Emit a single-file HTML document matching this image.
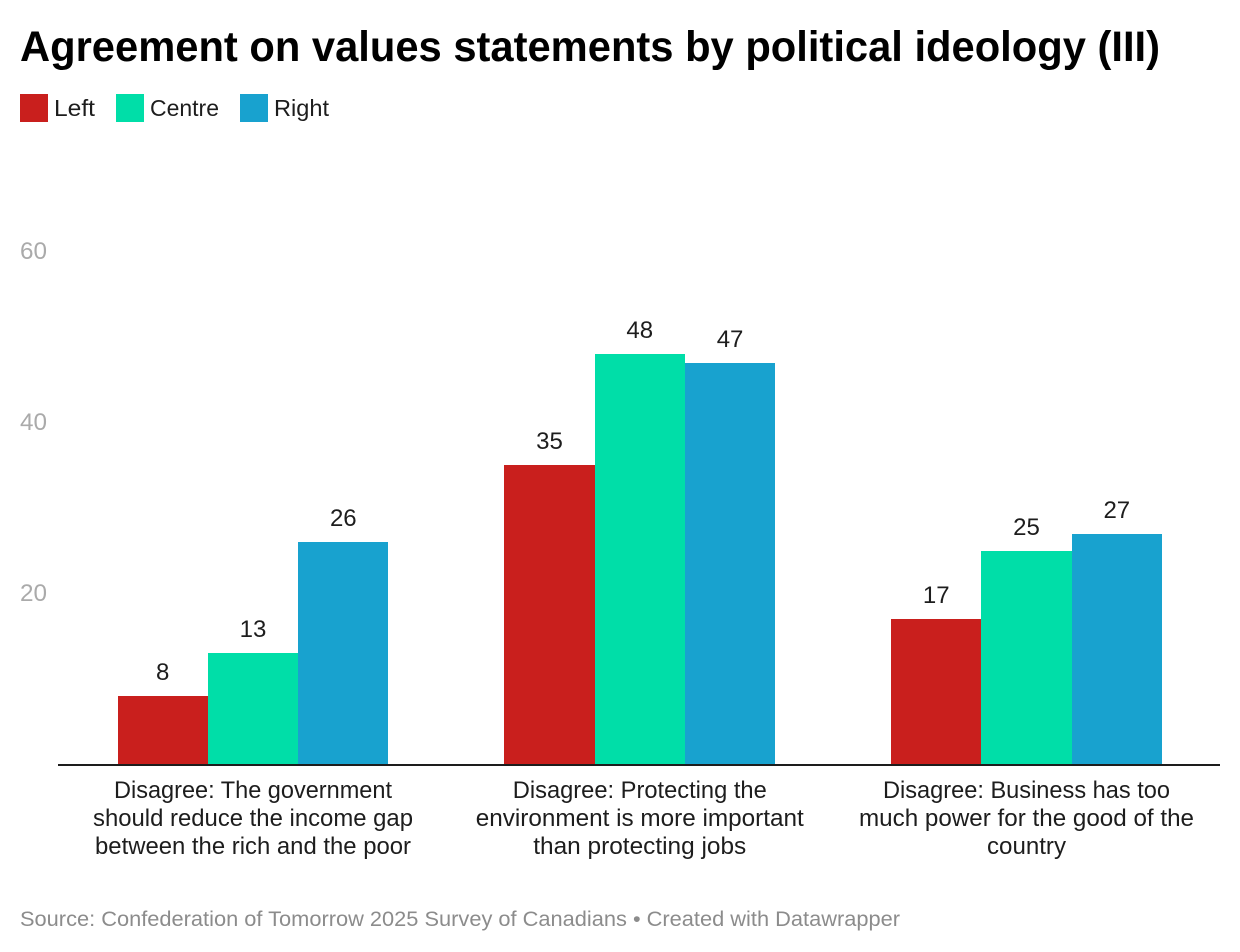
<!DOCTYPE html>
<html lang="en">
<head>
<meta charset="utf-8">
<title>Agreement on values statements by political ideology (III)</title>
<style>
html,body{margin:0;padding:0;background:#fff;width:1240px;height:952px;overflow:hidden}
svg{display:block;font-family:"Liberation Sans",sans-serif}
</style>
</head>
<body>
<svg id="chart" xmlns="http://www.w3.org/2000/svg" width="1240" height="952" viewBox="0 0 1240 952">
  <rect x="0" y="0" width="1240" height="952" fill="#ffffff"/>
  <text x="20" y="61" font-size="43" font-weight="700" fill="#000000" textLength="1140" lengthAdjust="spacingAndGlyphs">Agreement on values statements by political ideology (III)</text>
  <text x="20" y="926" font-size="21.5" fill="#8c8c8c" textLength="880" lengthAdjust="spacingAndGlyphs">Source: Confederation of Tomorrow 2025 Survey of Canadians • Created with Datawrapper</text>
  <g id="legend"></g>
  <g id="y-ticks"></g>
  <g id="bars"></g>
  <g id="values"></g>
  <rect x="58" y="764" width="1162" height="2" fill="#1d1d1d"/>
  <g id="x-labels"></g>
</svg>
<script>
const categories = [
  ["Disagree: The government", "should reduce the income gap", "between the rich and the poor"],
  ["Disagree: Protecting the", "environment is more important", "than protecting jobs"],
  ["Disagree: Business has too", "much power for the good of the", "country"]
];
const seriesNames = ["Left", "Centre", "Right"];
const leftValues = [8, 35, 17];
const centreValues = [13, 48, 25];
const rightValues = [26, 47, 27];
const yTicks = [20, 40, 60];

const seriesValues = [leftValues, centreValues, rightValues];
const seriesColors = ["#c91f1d", "#00dea8", "#18a2cf"];
const NS = "http://www.w3.org/2000/svg";

const fittedWidths = {
  "Disagree: The government": 278,
  "should reduce the income gap": 320,
  "between the rich and the poor": 316,
  "Disagree: Protecting the": 254,
  "environment is more important": 328,
  "than protecting jobs": 213,
  "Disagree: Business has too": 287,
  "much power for the good of the": 335,
  "country": 79,
  "Left": 41,
  "Centre": 69,
  "Right": 55
};

function yScale(v) { return 764 - v * 8.55; }
function bandCenter(i) { return 253 + i * 386.75; }
const barWidth = 90.3;
function barX(i, s) { return bandCenter(i) + (s - 1.5) * barWidth; }

function make(tag, attrs, parent, text) {
  const el = document.createElementNS(NS, tag);
  for (const k in attrs) el.setAttribute(k, attrs[k]);
  if (text !== undefined) el.textContent = text;
  parent.appendChild(el);
  return el;
}

const legend = document.getElementById("legend");
const legendSwatchX = [20, 116, 240];
seriesNames.forEach(function (name, s) {
  const swatch = make("rect", { x: legendSwatchX[s], y: 94, width: 28, height: 28, fill: seriesColors[s] }, legend);
  
  
  const label = make("text", { x: legendSwatchX[s] + 34, y: 116, "font-size": 23.5, fill: "#1d1d1d", textLength: fittedWidths[name], lengthAdjust: "spacingAndGlyphs" }, legend, name);
  
  
});

const yGroup = document.getElementById("y-ticks");
yTicks.forEach(function (t) {
  const tick = make("text", { x: 20, y: yScale(t) + 8, "font-size": 24, fill: "#aaaaaa", textLength: 27, lengthAdjust: "spacingAndGlyphs" }, yGroup, String(t));
  
  
});

const barGroup = document.getElementById("bars");
const valueGroup = document.getElementById("values");
categories.forEach(function (lines, i) {
  seriesValues.forEach(function (vals, s) {
    const v = vals[i];
    const left = Math.round(barX(i, s));
    const right = Math.round(barX(i, s + 1));
    const top = Math.ceil(yScale(v));
    const bar = make("rect", { x: left, y: top, width: right - left, height: 764 - top, fill: seriesColors[s] }, barGroup);
    
    
    const val = make("text", { x: barX(i, s) + barWidth / 2, y: top - 16, "font-size": 24, "text-anchor": "middle", fill: "#1d1d1d" }, valueGroup, String(v));
    
    
  });
});

const xGroup = document.getElementById("x-labels");
categories.forEach(function (lines, i) {
  lines.forEach(function (line, j) {
    const lab = make("text", { x: bandCenter(i), y: 798 + j * 28, "font-size": 24, "text-anchor": "middle", fill: "#1d1d1d", textLength: fittedWidths[line], lengthAdjust: "spacingAndGlyphs" }, xGroup, line);
    
    
  });
});
</script>
</body>
</html>
